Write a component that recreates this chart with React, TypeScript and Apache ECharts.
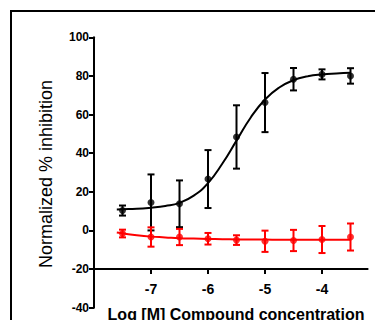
import React, { useEffect, useRef } from "react";
import * as echarts from "echarts";

const doses = [-7.5, -7, -6.5, -6, -5.5, -5, -4.5, -4, -3.5];
const compoundMean = [10.3, 14.5, 13.8, 26.6, 48.4, 66.2, 78.3, 80.8, 80.0];
const compoundErr = [2.6, 14.5, 12.1, 15.0, 16.4, 15.3, 5.8, 2.6, 4.0];
const controlMean = [-1.6, -3.4, -3.4, -4.3, -5.0, -5.6, -5.2, -4.7, -3.4];
const controlErr = [2.0, 5.0, 4.2, 3.0, 2.5, 5.5, 5.5, 7.0, 7.0];

const fitX = [-7.6, -7.5, -7.25, -7, -6.75, -6.5, -6.25, -6, -5.75, -5.5, -5.25, -5, -4.75, -4.5, -4.25, -4, -3.75, -3.5];
const compoundFit = [10.9, 11.0, 11.2, 11.8, 12.7, 14.3, 18.0, 24.5, 34.5, 46.5, 58.5, 67.8, 74.0, 77.8, 79.8, 80.8, 81.3, 81.6];
const controlFit = [-1.1, -1.5, -2.5, -3.2, -3.6, -4.0, -4.2, -4.4, -4.55, -4.65, -4.7, -4.75, -4.78, -4.8, -4.8, -4.8, -4.8, -4.8];

const xTicks = [-7, -6, -5, -4];
const yMin = -40;
const yMax = 100;
const yStep = 20;
const xMin = -8;
const xMax = -3.2;

const FONT = "'Liberation Sans', Arial, Helvetica, sans-serif";

function errorSeries(mean: number[], err: number[], color: string) {
  const data = doses.map((d, i) => [d, mean[i] - err[i], mean[i] + err[i]]);
  return {
    type: "custom",
    data,
    z: 3,
    renderItem: (_params: any, api: any) => {
      const x = api.value(0);
      const lo = api.coord([x, api.value(1)]);
      const hi = api.coord([x, api.value(2)]);
      const cap = 3.5;
      const style = { stroke: color, lineWidth: 2 };
      return {
        type: "group",
        children: [
          { type: "line", shape: { x1: lo[0], y1: lo[1], x2: hi[0], y2: hi[1] }, style },
          { type: "line", shape: { x1: lo[0] - cap, y1: lo[1], x2: lo[0] + cap, y2: lo[1] }, style },
          { type: "line", shape: { x1: hi[0] - cap, y1: hi[1], x2: hi[0] + cap, y2: hi[1] }, style },
        ],
      };
    },
  };
}

export default function App() {
  const ref = useRef<HTMLDivElement>(null);
  useEffect(() => {
    document.body.style.margin = "0";
    if (!ref.current) return;
    const chart = echarts.init(ref.current, undefined, { renderer: "svg" });
    const pxPerUnit = 270.4 / (yMax - yMin);
    chart.setOption({
      animation: false,
      grid: { left: 94, right: 7.4, top: 37.3, bottom: 12.3 },
      xAxis: {
        type: "value",
        min: xMin,
        max: xMax,
        interval: 1,
        position: "bottom",
        offset: -(-20 - yMin) * pxPerUnit,
        axisLine: { onZero: false, lineStyle: { color: "#000", width: 2 } },
        axisTick: { show: true, customValues: xTicks, length: 5, lineStyle: { color: "#000", width: 2 } },
        axisLabel: {
          customValues: xTicks,
          color: "#000",
          fontFamily: FONT,
          fontWeight: "bold",
          fontSize: 14,
          margin: 13,
        },
        splitLine: { show: false },
      },
      yAxis: {
        type: "value",
        min: yMin,
        max: yMax,
        interval: yStep,
        axisLine: { show: true, onZero: false, lineStyle: { color: "#000", width: 2 } },
        axisTick: { show: true, length: 5, lineStyle: { color: "#000", width: 2 } },
        axisLabel: {
          color: "#000",
          fontFamily: FONT,
          fontWeight: "bold",
          fontSize: 12,
          margin: 5,
        },
        splitLine: { show: false },
      },
      graphic: [
        { type: "line", shape: { x1: 10, y1: 11, x2: 375, y2: 11 }, style: { stroke: "#000", lineWidth: 2 } },
        { type: "line", shape: { x1: 11, y1: 10, x2: 11, y2: 320 }, style: { stroke: "#000", lineWidth: 2 } },
        {
          type: "text",
          x: 46,
          y: 174,
          rotation: Math.PI / 2,
          style: {
            text: "Normalized % inhibition",
            fill: "#000",
            font: `18px ${FONT}`,
            align: "center",
            verticalAlign: "middle",
          },
        },
        {
          type: "text",
          x: 236,
          y: 314,
          style: {
            text: "Log [M] Compound concentration",
            fill: "#000",
            font: `bold 16px ${FONT}`,
            align: "center",
            verticalAlign: "middle",
          },
        },
      ],
      series: [
        {
          type: "line",
          data: fitX.map((x, i) => [x, compoundFit[i]]),
          smooth: true,
          showSymbol: false,
          lineStyle: { color: "#000", width: 2 },
          z: 2,
        },
        {
          type: "line",
          data: fitX.map((x, i) => [x, controlFit[i]]),
          smooth: true,
          showSymbol: false,
          lineStyle: { color: "#f00", width: 2 },
          z: 2,
        },
        errorSeries(compoundMean, compoundErr, "#000"),
        errorSeries(controlMean, controlErr, "#f00"),
        {
          type: "scatter",
          data: doses.map((d, i) => [d, compoundMean[i]]),
          symbol: "circle",
          symbolSize: 7,
          itemStyle: { color: "#000" },
          z: 4,
        },
        {
          type: "scatter",
          data: doses.map((d, i) => [d, controlMean[i]]),
          symbol: "circle",
          symbolSize: 7,
          itemStyle: { color: "#f00" },
          z: 4,
        },
      ],
    });
    return () => chart.dispose();
  }, []);
  return <div ref={ref} style={{ width: 375, height: 320 }} />;
}
